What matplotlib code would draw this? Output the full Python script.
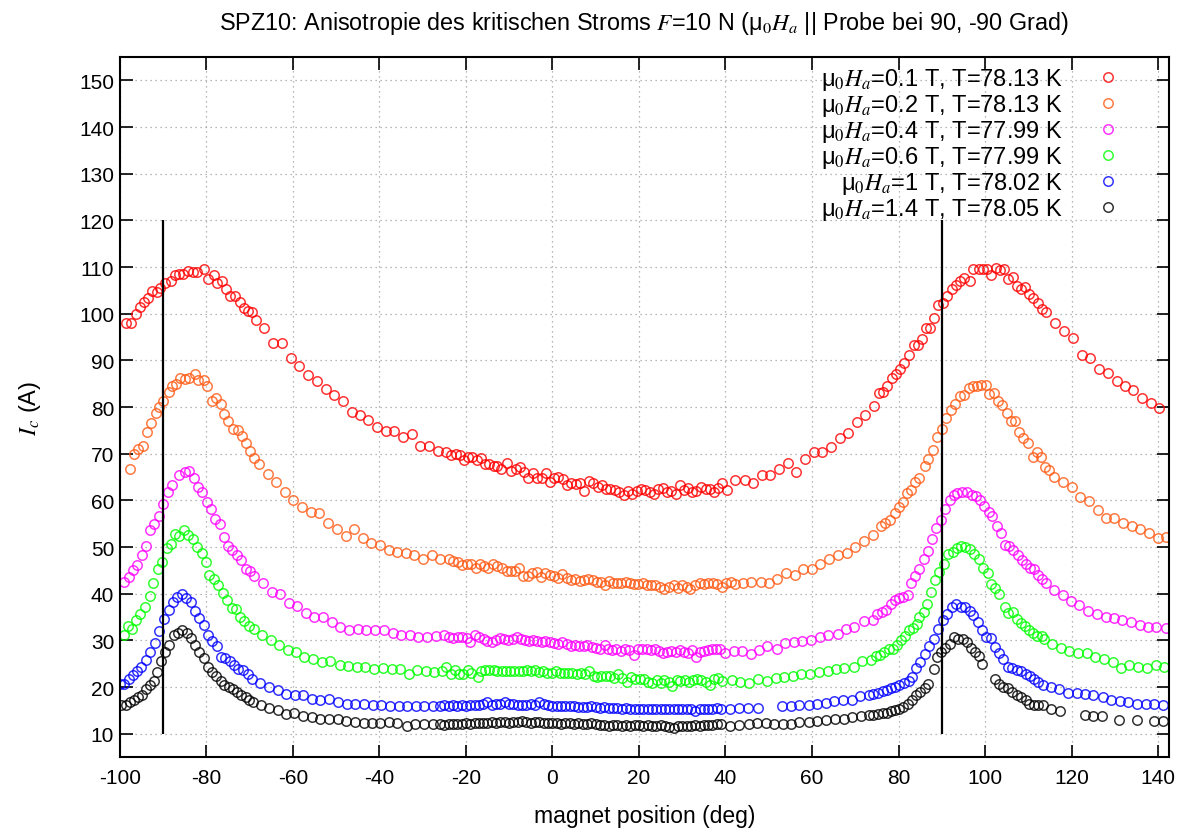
import numpy as np
import matplotlib
matplotlib.use("Agg")
import matplotlib.pyplot as plt

x_01 = [-98.5, -97.3, -96.3, -95.2, -94.4, -93.5, -92.5, -91.4, -90.6, -89.6, -88.2, -87.3, -86.2, -85.4, -84.2, -83.1,
        -82.1, -80.4, -79.5, -78.2, -77.5, -76.4, -75.4, -74.4, -73.3, -72.3, -71.3, -70.4, -69.4, -68.5, -66.6, -64.5,
        -62.5, -60.4, -58.5, -56.4, -54.4, -52.3, -50.4, -48.5, -46.4, -44.4, -42.5, -40.5, -38.5, -36.6, -34.6, -32.5,
        -30.6, -28.5, -26.5, -24.5, -23.5, -22.3, -21.3, -20.4, -19.5, -18.5, -17.5, -16.5, -15.6, -14.6, -13.6, -12.7,
        -11.8, -10.6, -9.6, -8.5, -7.5, -6.6, -5.6, -4.5, -3.5, -2.5, -1.5, -0.5, 0.4, 1.4, 2.4, 3.3, 4.4, 5.4, 6.4, 7.4,
        8.4, 9.4, 10.5, 11.5, 12.5, 13.4, 14.4, 15.5, 16.5, 17.4, 18.5, 19.5, 20.5, 21.5, 22.5, 23.4, 24.5, 25.5, 26.4,
        27.5, 28.5, 29.4, 30.4, 31.3, 32.3, 33.3, 34.4, 35.4, 36.4, 37.3, 38.3, 39.2, 40.4, 42.3, 44.4, 46.4, 48.5, 50.4,
        52.4, 54.5, 56.4, 58.3, 60.4, 62.3, 64.4, 66.4, 68.3, 70.4, 72.3, 74.4, 75.4, 76.4, 77.3, 78.5, 79.5, 80.4, 81.3,
        82.3, 83.5, 84.4, 85.4, 86.4, 87.3, 88.3, 89.2, 90.2, 91.3, 92.3, 93.3, 94.2, 95.2, 96.4, 97.3, 98.5, 99.5, 100.5,
        101.4, 102.5, 103.5, 104.4, 105.4, 106.4, 107.3, 108.2, 109.2, 110.2, 111.1, 112.2, 113.1, 114.1, 116.2, 118.2,
        120.2, 122.3, 124.2, 126.3, 128.3, 130.4, 132.3, 134.2, 136.3, 138.3, 140.2]
y_01 = [97.9, 98.1, 100.0, 101.4, 102.6, 103.4, 104.8, 104.7, 105.5, 106.6, 107.0, 108.2, 108.4, 108.6, 109.2, 109.0,
        109.0, 109.5, 107.5, 108.2, 106.6, 107.1, 105.2, 103.7, 103.7, 102.5, 101.3, 100.5, 100.4, 98.6, 97.0, 93.7,
        93.7, 90.6, 88.9, 86.8, 85.5, 83.8, 82.5, 81.4, 78.9, 78.4, 77.3, 75.7, 74.9, 74.8, 73.6, 74.3,
        71.6, 71.6, 70.6, 70.4, 69.8, 70.0, 69.8, 68.7, 69.4, 69.4, 68.6, 69.1, 67.9, 67.7, 67.4, 67.4,
        66.7, 68.0, 66.3, 66.8, 67.2, 66.1, 64.7, 65.9, 64.8, 64.8, 65.9, 63.9, 64.9, 65.0, 64.5, 63.4, 63.8, 63.6, 63.8, 62.1,
        64.1, 63.8, 62.9, 63.2, 62.5, 62.4, 62.3, 61.9, 61.2, 62.0, 61.4, 62.0, 62.5, 62.3, 61.7, 61.4, 62.5, 62.7, 61.8,
        62.1, 61.4, 63.2, 62.3, 62.7, 61.9, 62.1, 62.9, 62.5, 62.4, 61.8, 62.7, 63.8, 62.3, 64.3, 64.3, 63.8, 65.4, 65.4,
        66.7, 68.1, 66.1, 68.8, 70.4, 70.4, 71.5, 73.4, 74.5, 76.7, 78.4, 80.2, 83.0, 83.2, 84.6, 86.2, 87.0, 88.1, 89.4,
        91.2, 93.2, 93.2, 94.6, 96.9, 96.9, 99.1, 101.9, 102.2, 103.7, 105.2, 106.2, 106.9, 107.7, 106.9, 109.5, 109.5, 109.5, 109.6,
        108.2, 109.8, 109.3, 109.5, 107.4, 107.9, 105.9, 105.3, 105.8, 104.3, 103.4, 102.2, 100.9, 100.4, 98.0, 96.2,
        94.7, 91.2, 90.5, 88.2, 87.2, 85.6, 84.6, 83.6, 82.0, 80.9, 79.7]

x_02 = [-97.7, -96.7, -95.8, -94.6, -93.6, -92.7, -91.7, -90.8, -89.9, -88.7, -87.9, -86.9, -86.0, -85.0, -84.0, -82.7,
        -81.8, -80.6, -79.8, -78.7, -77.7, -76.7, -75.8, -74.9, -73.9, -72.7, -71.8, -70.8, -69.8, -68.9, -67.9, -65.8,
        -63.9, -61.9, -59.9, -57.9, -55.8, -53.9, -51.8, -49.8, -47.7, -45.8, -43.8, -41.9, -39.8, -37.8, -35.8, -33.9,
        -31.9, -29.9, -27.9, -25.9, -23.9, -22.9, -21.8, -20.8, -19.8, -18.7, -17.7, -16.7, -15.8, -14.8, -13.7, -12.7,
        -11.7, -10.6, -9.6, -8.6, -7.7, -6.7, -5.6, -4.6, -3.6, -2.7, -1.7, -0.6, 0.4, 1.3, 2.3, 3.3, 4.4, 5.3, 6.3, 7.3,
        8.3, 9.4, 10.4, 11.3, 12.1, 13.1, 14.0, 15.0, 15.9, 16.9, 17.9, 18.8, 19.8, 20.9, 21.9, 22.8, 23.8, 24.8, 25.9,
        26.9, 28.1, 29.1, 30.0, 31.0, 31.9, 32.9, 34.0, 35.0, 36.0, 37.1, 38.1, 39.1, 40.2, 41.2, 42.1, 44.1, 46.0, 48.1,
        50.0, 51.9, 54.1, 56.0, 57.9, 60.0, 61.9, 64.0, 66.0, 68.1, 70.0, 72.1, 74.1, 76.0, 76.9, 78.1, 79.1, 80.0, 81.0,
        81.9, 82.9, 83.8, 84.8, 86.0, 86.9, 87.9, 88.8, 90.0, 91.0, 92.1, 93.1, 94.1, 95.2, 96.2, 97.2, 98.1, 99.1, 100.2,
        101.0, 102.1, 102.9, 104.0, 105.0, 105.9, 106.9, 107.8, 108.8, 109.8, 111.0, 111.9, 112.9, 113.8, 114.8, 115.9,
        117.9, 120.0, 121.9, 124.0, 126.0, 127.9, 129.8, 131.9, 133.9, 135.9, 137.8, 139.9, 141.8]
y_02 = [66.8, 70.0, 71.1, 71.7, 74.7, 76.6, 78.7, 80.0, 81.4, 83.2, 84.6, 85.0, 86.3, 86.1, 86.3, 87.0,
        85.9, 85.9, 84.6, 81.4, 81.9, 80.7, 78.6, 77.1, 75.4, 75.0, 73.7, 72.3, 70.5, 69.1, 67.9, 65.7,
        63.9, 61.7, 60.0, 58.6, 57.6, 57.2, 55.2, 53.9, 52.4, 53.8, 52.0, 50.9, 50.5, 49.3, 49.0, 48.8,
        48.4, 47.5, 48.4, 47.4, 47.5, 47.1, 46.8, 46.1, 46.4, 46.3, 45.5, 46.3, 45.9, 45.5, 46.4, 45.9,
        45.5, 44.8, 44.8, 44.8, 45.5, 43.9, 43.9, 44.5, 44.7, 43.6, 44.5, 44.1, 43.8, 43.4, 44.2, 43.4, 42.9, 43.2, 42.7, 43.0,
        43.2, 42.9, 42.5, 42.5, 41.8, 42.7, 42.3, 42.4, 42.3, 42.5, 42.3, 42.0, 42.0, 42.3, 41.8, 41.8, 41.8, 41.4, 41.1,
        41.4, 41.8, 41.3, 41.8, 41.4, 41.1, 41.8, 42.2, 42.0, 42.2, 42.2, 42.0, 41.4, 42.4, 42.6, 42.0, 42.4, 42.5, 42.5,
        42.4, 43.2, 44.5, 44.1, 45.2, 45.2, 46.3, 47.4, 48.2, 48.7, 50.1, 51.3, 52.5, 54.6, 55.2, 55.9, 57.4, 58.6, 59.7,
        61.6, 62.3, 64.0, 64.8, 67.4, 68.8, 70.8, 73.5, 75.2, 77.7, 79.3, 80.6, 82.3, 82.5, 84.1, 84.5, 84.6, 84.8, 84.8,
        82.7, 83.0, 81.2, 80.4, 78.8, 77.0, 77.0, 74.7, 73.4, 72.4, 69.3, 70.4, 69.2, 67.2, 66.6, 65.0,
        64.0, 62.9, 60.7, 59.8, 57.9, 56.3, 56.2, 55.2, 54.5, 53.8, 53.0, 52.0, 52.2]

x_04 = [-99.0, -97.9, -96.9, -95.9, -94.9, -93.9, -92.9, -92.0, -90.9, -90.0, -88.9, -87.9, -86.2, -85.0, -83.9, -82.9,
        -81.9, -80.9, -79.9, -78.9, -77.9, -76.9, -75.9, -75.0, -74.0, -72.9, -71.9, -70.9, -69.9, -68.9, -66.9, -64.9,
        -62.9, -60.9, -59.0, -56.9, -55.0, -52.9, -50.9, -49.0, -47.1, -45.0, -43.1, -41.0, -39.0, -36.9, -35.0, -32.9,
        -31.0, -29.0, -26.9, -25.0, -23.9, -22.9, -21.8, -20.8, -19.8, -19.0, -17.9, -16.9, -15.9, -15.0, -14.0, -13.1,
        -12.2, -11.2, -10.2, -9.2, -8.2, -7.3, -6.3, -5.4, -4.4, -3.5, -2.5, -1.6, -0.6, 0.4, 1.4, 2.3, 3.3, 4.2, 5.2, 6.1,
        7.2, 8.1, 9.1, 10.0, 11.0, 12.1, 12.9, 13.8, 14.8, 15.8, 16.8, 17.7, 18.8, 19.8, 20.8, 21.8, 22.7, 23.6, 24.6,
        25.6, 26.5, 27.5, 28.5, 29.4, 30.4, 31.3, 32.3, 33.1, 34.1, 35.0, 36.0, 36.9, 37.9, 38.8, 39.8, 41.9, 43.8, 45.8,
        47.8, 49.7, 51.8, 53.8, 55.8, 57.8, 59.8, 61.9, 63.8, 65.9, 67.9, 69.8, 71.9, 74.0, 75.0, 76.2, 77.1, 78.2, 79.2,
        80.2, 81.1, 82.1, 82.9, 83.8, 84.8, 85.8, 86.9, 87.8, 88.7, 89.8, 90.8, 91.8, 92.7, 93.6, 94.6, 95.8, 96.9, 97.9,
        98.8, 99.8, 100.8, 101.6, 102.7, 103.6, 104.6, 105.6, 106.5, 107.5, 108.5, 109.4, 110.4, 111.3, 112.3, 113.2,
        114.1, 116.0, 117.9, 119.9, 121.8, 123.8, 125.8, 127.9, 129.8, 131.7, 133.7, 135.8, 137.7, 139.6, 141.7]
y_04 = [42.5, 43.6, 45.0, 46.2, 48.2, 50.2, 53.6, 55.0, 56.6, 59.3, 61.8, 63.2, 65.4, 66.1, 66.2, 64.7,
        62.9, 61.8, 59.7, 58.2, 56.1, 55.0, 52.2, 50.2, 49.4, 48.2, 47.2, 45.2, 44.8, 43.9, 42.2, 40.4,
        40.0, 38.0, 37.4, 35.9, 35.0, 35.0, 33.9, 32.9, 32.2, 32.4, 32.2, 32.3, 32.2, 31.6, 31.2, 31.2,
        30.7, 30.7, 31.0, 31.2, 30.7, 30.5, 30.7, 30.7, 30.5, 29.7, 31.2, 30.7, 30.2, 29.9, 29.7, 30.0,
        30.5, 30.2, 30.0, 30.4, 30.7, 30.2, 30.0, 29.9, 30.0, 29.9, 29.7, 29.9, 29.7, 29.4, 29.3, 29.7, 29.2, 28.8, 29.0, 28.8,
        28.8, 29.0, 28.6, 28.4, 28.2, 29.1, 28.1, 27.9, 28.2, 27.8, 28.2, 27.9, 26.8, 28.2, 28.1, 28.1, 27.9, 28.2, 27.7,
        27.2, 27.5, 27.7, 27.5, 27.9, 27.5, 27.3, 27.9, 26.5, 27.5, 27.7, 27.9, 28.1, 28.2, 28.1, 27.2, 27.7, 27.7, 27.0,
        27.9, 28.8, 28.1, 29.5, 29.7, 29.8, 30.0, 30.7, 31.1, 31.4, 32.4, 32.9, 34.1, 34.3, 35.7, 36.1, 36.6, 37.7, 38.6,
        39.1, 39.3, 39.8, 42.3, 43.9, 45.2, 47.4, 49.1, 51.7, 54.1, 55.9, 58.2, 60.0, 61.1, 61.6, 61.8, 61.8, 61.1, 60.9,
        60.0, 58.9, 57.5, 56.7, 54.5, 53.1, 50.4, 50.2, 49.3, 48.4, 47.2, 46.4, 45.5, 45.2, 44.1, 43.2,
        42.2, 40.9, 39.8, 38.4, 37.5, 36.3, 35.7, 35.0, 34.8, 34.3, 33.9, 33.4, 32.9, 32.9, 32.7]

x_06 = [-99.1, -98.1, -97.1, -96.2, -95.2, -94.1, -93.1, -92.2, -91.2, -90.2, -89.1, -88.1, -87.2, -86.2, -85.2, -84.1,
        -83.1, -82.1, -81.0, -80.0, -79.3, -78.2, -77.2, -76.2, -75.2, -74.1, -73.1, -72.1, -71.2, -70.0, -69.0, -67.1,
        -65.0, -63.1, -61.2, -59.2, -57.3, -55.3, -53.2, -51.3, -49.2, -47.3, -45.2, -43.3, -41.3, -39.2, -37.1, -35.2,
        -33.2, -31.3, -29.2, -27.3, -25.4, -24.5, -23.5, -22.6, -21.6, -20.6, -19.6, -18.7, -17.3, -16.5, -15.6, -14.6,
        -13.6, -12.7, -11.7, -10.8, -9.8, -8.9, -7.8, -6.9, -5.9, -5.0, -4.1, -3.1, -2.1, -1.2, -0.2, 0.8, 1.8, 2.7, 3.7,
        4.6, 5.6, 6.5, 7.5, 8.5, 9.5, 10.4, 11.3, 12.3, 13.3, 14.2, 15.1, 16.2, 17.3, 18.2, 19.2, 20.2, 21.1, 22.2, 23.1,
        24.1, 25.0, 25.9, 26.9, 27.7, 28.7, 29.6, 30.6, 31.5, 32.5, 33.5, 34.4, 35.4, 36.4, 37.3, 38.3, 39.2, 41.5, 43.4,
        45.5, 47.6, 49.6, 51.6, 53.6, 55.5, 57.5, 59.6, 61.5, 63.6, 65.6, 67.5, 69.6, 71.6, 73.7, 74.8, 75.8, 76.7, 77.7,
        78.6, 79.6, 80.5, 81.5, 82.5, 83.4, 84.2, 84.8, 85.8, 86.5, 87.5, 88.5, 89.4, 90.4, 91.4, 92.5, 93.5, 94.4, 95.4,
        96.6, 97.5, 98.6, 99.6, 100.6, 101.3, 102.3, 103.3, 104.5, 105.4, 106.4, 107.3, 108.2, 109.2, 110.2, 111.1,
        112.1, 113.1, 113.6, 115.4, 117.5, 119.5, 121.5, 123.5, 125.5, 127.5, 129.5, 131.4, 133.3, 135.4, 137.3, 139.4,
        141.4]
y_06 = [31.1, 33.1, 32.4, 34.3, 35.7, 37.2, 39.6, 42.2, 45.4, 46.7, 49.8, 50.7, 52.9, 52.4, 53.6, 52.5,
        51.8, 50.0, 48.8, 46.7, 44.1, 43.2, 41.8, 40.2, 38.6, 36.9, 36.7, 35.0, 34.1, 33.0, 32.5, 31.1,
        30.0, 29.1, 27.9, 27.5, 26.5, 26.1, 25.4, 25.5, 24.8, 24.6, 24.3, 24.3, 23.9, 24.0, 23.9, 23.8,
        22.7, 23.6, 23.4, 23.2, 23.4, 24.2, 22.9, 23.6, 22.9, 22.7, 23.6, 23.1, 22.2, 23.4, 23.6, 23.7,
        23.6, 23.4, 23.4, 23.4, 23.4, 23.4, 23.4, 23.4, 23.6, 23.4, 23.6, 23.2, 23.4, 23.1, 23.1, 23.4, 23.1, 23.1, 23.1,
        23.1, 22.9, 23.1, 22.7, 23.4, 22.4, 22.2, 22.3, 22.4, 22.4, 22.0, 22.7, 22.0, 21.1, 22.2, 21.8, 21.8, 21.8, 21.1, 20.8,
        21.6, 20.8, 21.6, 21.1, 20.2, 21.5, 21.2, 21.5, 21.1, 21.5, 21.8, 21.5, 21.0, 20.4, 21.8, 22.0, 21.2, 21.5, 21.0,
        20.8, 21.8, 21.4, 21.9, 22.2, 22.3, 22.9, 22.7, 23.2, 23.5, 23.9, 24.1, 24.3, 25.5, 25.9, 26.7, 26.9, 27.5, 28.1,
        28.2, 29.1, 30.0, 31.0, 32.2, 32.7, 33.6, 35.0, 36.1, 37.9, 40.4, 43.0, 44.7, 46.3, 48.6, 48.9, 49.9, 50.2, 50.0,
        49.6, 48.6, 47.4, 45.5, 44.4, 42.0, 41.2, 40.0, 37.2, 35.9, 36.1, 34.5, 33.8, 33.1, 32.2, 31.5,
        30.9, 30.9, 30.4, 29.3, 28.4, 27.7, 27.2, 27.2, 26.5, 26.1, 25.4, 24.1, 24.7, 24.3, 24.1, 24.7,
        24.3]

x_10 = [-99.9, -98.9, -97.9, -96.9, -96.0, -95.0, -94.0, -92.9, -91.9, -90.8, -89.8, -88.7, -87.7, -86.7, -85.6, -84.6,
        -83.6, -82.5, -81.6, -80.5, -79.6, -78.6, -77.5, -76.6, -75.6, -74.6, -73.6, -72.7, -71.5, -70.4, -69.5, -67.5,
        -65.5, -63.5, -61.6, -59.5, -57.6, -55.6, -53.6, -51.6, -49.6, -47.5, -45.6, -43.5, -41.5, -39.6, -37.5, -35.5,
        -33.5, -31.5, -29.6, -27.7, -26, -25, -24, -23, -22, -21, -20, -19, -18, -17, -16, -15, -14, -13, -12, -11, -10,
        -9, -8, -7, -6, -5, -4, -3, -2, -1, 0, 1, 2, 3, 4, 5, 6, 7, 8, 9, 10, 11, 12, 13, 14, 15, 16, 17, 18, 19, 20, 21,
        22, 23, 24, 25, 26, 27, 28, 29, 30, 31, 32, 33, 34, 35, 36, 37, 38, 39, 41.0, 43.2, 45.1, 47.5, 53.1, 55.2, 57.1,
        59.2, 61.2, 63.2, 65.1, 67.2, 69.2, 71.1, 73.2, 74.2, 75.2, 76.3, 77.3, 78.3, 79.2, 80.2, 81.3, 82.3, 83.2, 84.1,
        85.0, 86.0, 87.1, 88.1, 89.2, 90.3, 91.3, 92.3, 93.3, 94.4, 95.4, 96.4, 97.3, 98.3, 99.2, 100.2, 101.3, 102.3,
        103.2, 104.2, 105.2, 106.3, 107.3, 108.3, 109.4, 110.4, 111.3, 112.3, 113.3, 115.2, 117.1, 119.2, 121.2, 123.1,
        125.0, 127.2, 129.1, 131.2, 133.1, 135.2, 137.1, 139.1, 141.0]
y_10 = [20.7, 20.7, 21.8, 22.5, 23.4, 24.3, 25.7, 27.5, 29.5, 32.0, 34.5, 36.6, 38.2, 39.3, 40.0, 39.1,
        38.2, 36.4, 34.7, 33.2, 31.2, 29.8, 28.8, 26.5, 26.2, 25.5, 24.8, 23.9, 23.6, 22.7, 21.7, 20.9,
        20.0, 19.3, 18.6, 18.4, 18.2, 17.5, 17.2, 17.5, 16.9, 16.4, 16.3, 16.3, 16.2, 16.1, 16.0, 15.9,
        15.9, 15.9, 15.9, 15.9, 16.0, 16.1, 16.0, 16.1, 16.0, 16.1, 16.0, 16.1, 16.2, 16.1, 16.4, 16.7, 16.2, 16.3, 16.4,
        16.8, 16.4, 16.3, 16.2, 16.2, 16.1, 16.3, 16.2, 16.7, 16.3, 16.1, 16.0, 16.0, 15.9, 15.9, 15.9, 15.9, 15.8, 15.8,
        15.7, 15.9, 15.7, 15.6, 15.8, 15.5, 15.6, 15.5, 15.4, 15.5, 15.4, 15.4, 15.3, 15.4, 15.3, 15.3, 15.4, 15.3, 15.3,
        15.2, 15.3, 15.2, 15.2, 15.3, 15.2, 14.9, 15.2, 15.3, 15.2, 15.4, 15.5, 15.3, 15.3, 15.6, 15.6, 15.5, 15.9, 15.9,
        16.1, 16.1, 16.3, 16.6, 17.0, 17.2, 17.3, 18.1, 18.4, 18.6, 18.8, 19.1, 19.3, 19.7, 20.0, 20.4, 20.9, 21.4, 22.2,
        24.1, 25.4, 27.0, 28.8, 30.4, 32.4, 34.3, 35.7, 37.2, 37.9, 37.2, 37.2, 36.4, 35.4, 34.0, 32.2, 30.8, 30.5, 28.6,
        27.4, 26.1, 24.4, 24.1, 23.6, 23.4, 22.7, 22.4, 21.8, 21.1, 20.5, 20.0, 19.5, 18.8, 18.8, 18.6,
        18.2, 17.9, 17.2, 17.0, 16.8, 16.4, 16.3, 16.4, 16.1]

x_14 = [-99.6, -98.6, -97.7, -96.8, -95.8, -94.8, -93.9, -92.9, -92.0, -91.3, -90.4, -89.5, -88.5, -87.5, -86.5, -85.6,
        -84.5, -83.5, -82.6, -81.6, -80.6, -79.6, -78.7, -77.7, -76.7, -75.8, -74.8, -73.9, -72.9, -71.9, -70.9, -70.0,
        -69.1, -67.3, -65.4, -63.5, -61.6, -59.6, -57.7, -55.6, -53.6, -51.7, -49.6, -47.7, -45.6, -43.6, -41.7, -39.8,
        -37.7, -35.8, -33.6, -31.7, -29.6, -27.7, -26, -25, -24, -23, -22, -21, -20, -19, -18, -17, -16, -15, -14, -13,
        -12, -11, -10, -9, -8, -7, -6, -5, -4, -3, -2, -1, 0, 1, 2, 3, 4, 5, 6, 7, 8, 9, 10, 11, 12, 13, 14, 15, 16, 17,
        18, 19, 20, 21, 22, 23, 24, 25, 26, 27, 28, 29, 30, 31, 32, 33, 34, 35, 36, 37, 38, 39, 41.1, 43.2, 45.4, 47.3,
        49.3, 51.2, 53.2, 55.2, 57.1, 59.2, 61.1, 63.2, 65.2, 67.3, 69.2, 71.3, 73.2, 74.2, 75.2, 76.3, 77.3, 78.2, 79.2,
        80.2, 81.1, 82.2, 83.1, 84.1, 85.0, 86.0, 86.9, 88.1, 88.8, 89.8, 90.8, 91.8, 92.8, 93.8, 94.8, 95.8, 96.7, 97.7,
        98.6, 99.2, 102.3, 103.1, 104.2, 105.4, 106.3, 107.3, 108.3, 109.4, 110.2, 111.3, 112.3, 113.3, 115.2, 117.3,
        123.1, 125.0, 126.9, 131.0, 135.0, 139.1, 141.2]
y_14 = [16.1, 16.1, 16.7, 17.2, 17.9, 18.4, 19.5, 20.5, 21.4, 23.2, 25.5, 27.5, 29.1, 31.2, 31.6, 32.2,
        31.6, 30.5, 29.1, 27.6, 26.2, 24.4, 23.3, 22.3, 21.4, 20.5, 20.0, 19.5, 18.9, 18.4, 17.9, 17.3,
        16.8, 16.1, 15.5, 15.0, 14.3, 14.5, 13.9, 13.6, 13.2, 13.1, 13.1, 12.7, 12.5, 12.4, 12.2, 12.2,
        12.5, 12.2, 11.7, 12.0, 12.0, 12.0, 12.0, 11.9, 12.0, 12.1, 12.0, 12.1, 12.2, 12.1, 12.3, 12.2, 12.4, 12.3, 12.5, 12.4,
        12.6, 12.5, 12.4, 12.6, 12.5, 12.7, 12.5, 12.4, 12.6, 12.5, 12.4, 12.2, 12.3, 12.2, 12.1, 12.3, 12.2, 12.0, 12.2, 12.1,
        12.0, 12.2, 12.1, 11.8, 11.9, 11.7, 11.8, 11.8, 11.7, 11.8, 11.7, 11.8, 11.8, 11.7, 11.8, 11.6, 11.7, 11.8, 11.6, 11.5,
        11.2, 11.6, 11.7, 11.6, 11.7, 11.8, 11.7, 11.8, 11.9, 11.8, 12.0, 12.0, 11.7, 11.8, 12.0, 12.2,
        12.2, 12.0, 12.1, 12.0, 12.5, 12.5, 12.7, 12.9, 13.1, 13.2, 13.6, 13.9, 14.1, 14.1, 14.3, 14.4, 14.5, 14.8, 15.0,
        15.4, 15.7, 16.4, 17.2, 18.2, 18.9, 19.8, 20.7, 23.9, 26.5, 27.5, 28.4, 29.3, 30.7, 30.4, 30.4, 29.7, 28.4, 27.5,
        26.7, 25.0, 21.7, 20.7, 20.0, 19.8, 18.9, 18.4, 17.9, 17.2, 16.4, 16.2, 16.2, 16.2, 15.4, 14.8,
        14.1, 13.7, 13.7, 13.0, 12.9, 12.7, 12.7]

series = [
    (x_01, y_01, '#ff0000', 'μ$_{\\mathit{0}}H_{a}$=0.1 T, T=78.13 K'),
    (x_02, y_02, '#ff5a14', 'μ$_{\\mathit{0}}H_{a}$=0.2 T, T=78.13 K'),
    (x_04, y_04, '#ff00ff', 'μ$_{\\mathit{0}}H_{a}$=0.4 T, T=77.99 K'),
    (x_06, y_06, '#00ff00', 'μ$_{\\mathit{0}}H_{a}$=0.6 T, T=77.99 K'),
    (x_10, y_10, '#0000ff', 'μ$_{\\mathit{0}}H_{a}$=1 T, T=78.02 K'),
    (x_14, y_14, '#000000', 'μ$_{\\mathit{0}}H_{a}$=1.4 T, T=78.05 K'),
]

plt.rcParams['font.family'] = ['Liberation Sans', 'DejaVu Sans']
plt.rcParams['mathtext.fontset'] = 'stix'
plt.rcParams['axes.unicode_minus'] = False

fig = plt.figure(figsize=(11.85, 8.29), dpi=100)
ax = fig.add_axes([0.101, 0.0856, 0.8855, 0.8444])

for xs, ys, col, lab in series:
    ax.plot(xs, ys, linestyle='none', marker='o', markersize=6.8, markerfacecolor='none',
            markeredgecolor=col, markeredgewidth=1.1, alpha=0.8, label=lab)

# Markierung der Probenlage bei -90 und 90 Grad
ax.vlines([-90, 90], 10, 120, colors='black', linewidth=1.6)

ax.set_xlim(-100, 142.5)
ax.set_ylim(5, 155)
ax.set_xticks(np.arange(-100, 141, 20))
ax.set_yticks(np.arange(10, 151, 10))
ax.tick_params(direction='in', length=9, width=1.2, top=True, right=True, labelsize=15)
ax.tick_params(axis='y', pad=4)
ax.tick_params(axis='x', pad=8)
ax.grid(True, color='#a0a0a0', linestyle=(0, (1, 3)), linewidth=0.9)
for s in ax.spines.values():
    s.set_linewidth(1.5)

ax.set_xlabel('magnet position (deg)', fontsize=16.5, labelpad=12)
ax.set_ylabel('$I_c$ (A)', fontsize=17, labelpad=26)
ax.set_title('SPZ10: Anisotropie des kritischen Stroms $F$=10 N (μ$_{\\mathit{0}}H_{a}$ || Probe bei 90, -90 Grad)',
             fontsize=16.8, pad=20)

ax.legend(loc='upper right', markerfirst=False, frameon=False, fontsize=17, handlelength=1.0,
          handletextpad=1.4, labelspacing=0.0, borderaxespad=0.0, borderpad=0.4,
          bbox_to_anchor=(0.962, 1.0))

fig.savefig('out.png', dpi=100)
